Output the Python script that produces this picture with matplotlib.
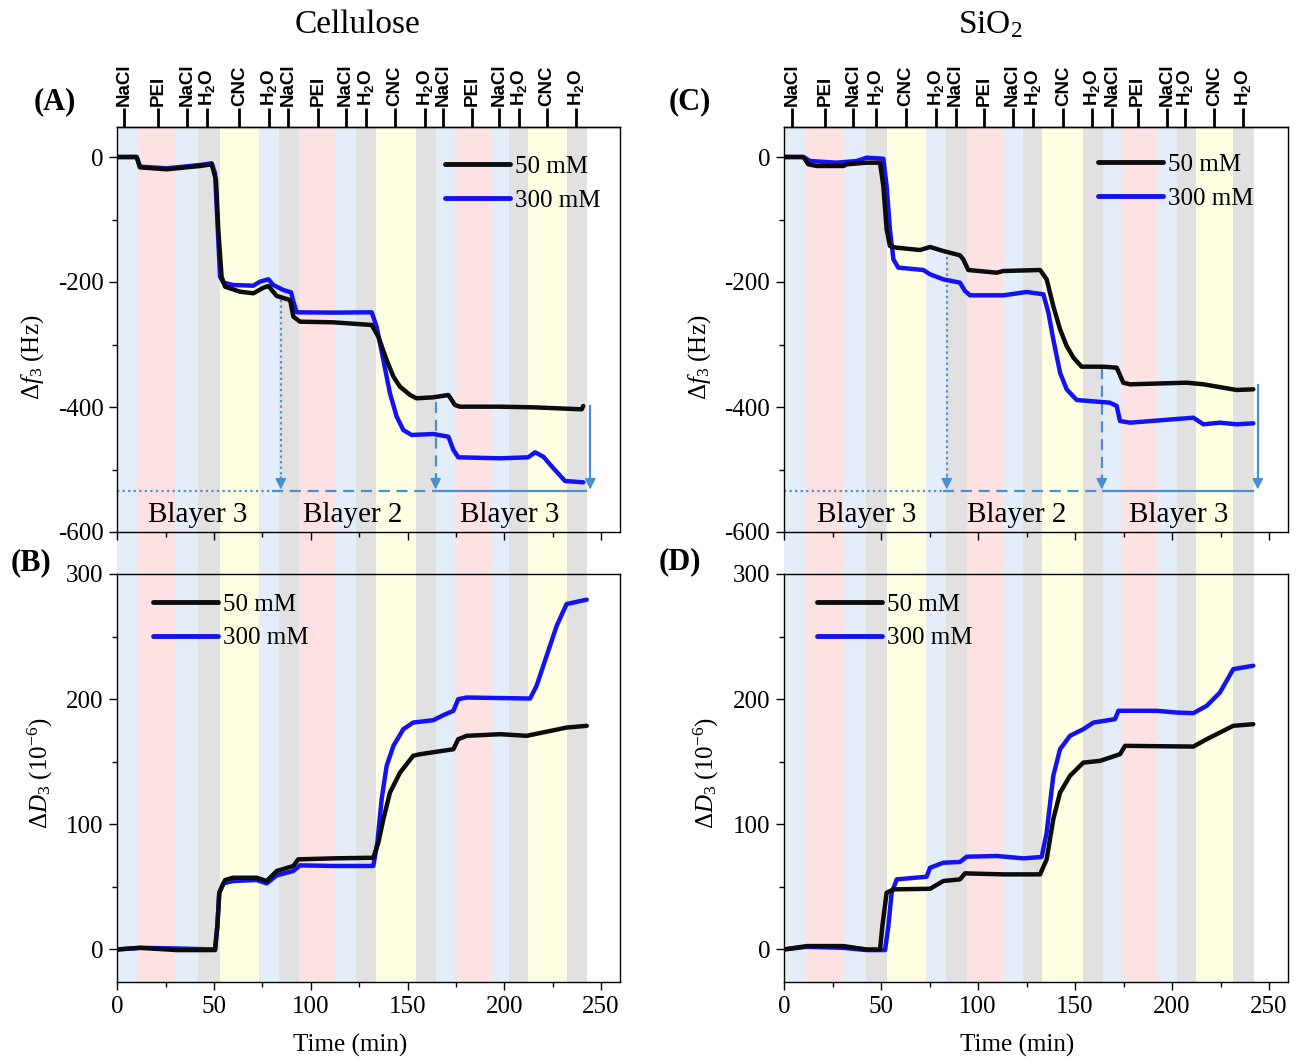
import matplotlib
matplotlib.use("Agg")
import matplotlib.pyplot as plt
from matplotlib.ticker import MultipleLocator

plt.rcParams['font.family'] = ['Liberation Serif', 'DejaVu Serif']
plt.rcParams['mathtext.fontset'] = 'custom'
plt.rcParams['mathtext.rm'] = 'Liberation Serif'
plt.rcParams['mathtext.it'] = 'Liberation Serif:italic'
plt.rcParams['mathtext.bf'] = 'Liberation Serif:bold'
plt.rcParams['mathtext.sf'] = 'Liberation Sans:bold'
plt.rcParams['axes.unicode_minus'] = False

# ---------------- data ----------------
step_labels = ['NaCl', 'PEI', 'NaCl', 'H2O', 'CNC', 'H2O', 'NaCl', 'PEI', 'NaCl',
               'H2O', 'CNC', 'H2O', 'NaCl', 'PEI', 'NaCl', 'H2O', 'CNC', 'H2O']
band_kinds = ['b', 'p', 'b', 'g', 'y', 'b', 'g', 'p', 'b', 'g', 'y', 'g',
              'b', 'p', 'b', 'g', 'y', 'g']
band_edges_cell = [0, 10.9, 30.3, 41.9, 53.1, 73.2, 83.7, 93.9, 113.0, 123.4, 133.7,
                   154.4, 164.5, 174.5, 193.0, 202.6, 212.4, 232.2, 242.6]
band_edges_sio2 = [0, 11.3, 30.6, 42.1, 53.3, 73.3, 83.5, 94.2, 112.7, 123.4, 133.2,
                   154.3, 164.3, 173.6, 192.5, 202.5, 212.4, 231.6, 242.3]
label_pos_cell = [3.5, 21.0, 36.2, 46.5, 63.1, 78.4, 88.4, 103.9, 118.0, 128.4, 143.5,
                  159.0, 168.5, 183.2, 197.4, 207.6, 221.9, 237.0]
label_pos_sio2 = [4.0, 21.1, 35.7, 47.4, 62.7, 78.2, 88.5, 103.2, 117.9, 128.5, 144.0,
                  158.9, 169.2, 182.3, 197.3, 206.7, 221.8, 236.4]

# Panel A: cellulose, frequency
A_t_50 = [0, 10, 11.7, 25.5, 42.7, 48.8, 51.0, 52.2, 53.9, 55.7, 63.4, 70.3, 75.5, 78.1,
          82.4, 89.3, 91.0, 94.4, 111.6, 131.5, 134.9, 139.2, 142.7, 146.1, 151.3, 154.7,
          163.3, 171.1, 174.5, 177.1, 197.8, 215.0, 240.0, 240.8]
A_f_50 = [0, 0, -16.5, -19.7, -14.4, -11.7, -36.8, -116.8, -191.5, -207.5, -215.5, -218.1,
          -209.1, -206.4, -222.4, -228.8, -255.5, -263.5, -264.5, -268.8, -287.5, -324.8,
          -351.5, -367.5, -380.8, -386.1, -384.5, -380.8, -396.8, -399.5, -399.5, -400.5,
          -403.7, -398.4]
A_t_300 = [0, 10.0, 11.7, 25.5, 42.7, 48.8, 50.5, 51.7, 53.1, 54.8, 59.8, 70.3, 73.7, 78.1,
           80.6, 85.8, 89.8, 91.0, 92.7, 111.6, 131.5, 134.0, 137.5, 140.9, 144.4, 147.8,
           152.1, 163.3, 171.1, 173.7, 176.2, 197.8, 212.4, 215.9, 220.2, 225.4, 231.4, 240.8]
A_f_300 = [0, 0, -15.5, -18.1, -12.8, -10.1, -26, -100.8, -191.5, -201, -204.8, -205.9,
           -199.5, -195.7, -204.8, -212.8, -216.5, -231.5, -248.5, -249, -248.5, -271.5,
           -324.8, -378, -415.5, -436.8, -444.8, -443.2, -447.5, -468.8, -480.5, -482.1,
           -480.5, -472.5, -479.5, -498.1, -518.4, -520.5]

# Panel B: cellulose, dissipation
B_t_50 = [0, 11.7, 30.7, 50.5, 51.7, 52.7, 55.7, 59.8, 72.0, 77.2, 82.4, 91.0, 93.5, 111.6,
          132.3, 134.9, 137.5, 140.9, 146.1, 152.9, 156.4, 173.7, 176.2, 180.6, 197.8,
          211.6, 232.2, 242.6]
B_d_50 = [0, 1.3, -0.5, -0.5, 18.7, 45.3, 55.5, 57.3, 57.3, 54.7, 62.7, 66.7, 72, 72.8,
          73.3, 85.3, 104, 125.3, 141.3, 154.7, 156, 160, 168, 170.7, 172, 170.7, 177.3, 178.7]
B_t_300 = [0, 11.7, 30.7, 50.5, 51.7, 52.7, 54.8, 59.8, 72.0, 77.2, 82.4, 91.0, 94.4, 111.6,
           132.3, 134.4, 136.6, 139.2, 142.7, 147.8, 152.9, 163.3, 168.5, 173.7, 176.2,
           180.6, 213.3, 216.7, 221.9, 227.1, 232.2, 242.6]
B_d_300 = [0, 1.3, 0.8, 0, 18.7, 45.3, 52.8, 54.7, 55.5, 52.8, 59.2, 62.7, 67.2, 66.7,
           66.7, 85.3, 120, 146.7, 162.7, 176, 181.3, 183.2, 187.2, 190.7, 200, 201.3,
           200.5, 210.7, 234.7, 258.7, 276, 279.5]

# Panel C: SiO2, frequency
C_t_50 = [0, 10.0, 12.5, 16.8, 30.6, 32.3, 42.6, 49.5, 51.2, 52.9, 54.6, 58.1, 70.1, 75.3,
          82.1, 90.7, 92.4, 95.0, 109.6, 113.1, 132.0, 135.4, 138.8, 142.3, 145.7, 149.2,
          153.4, 164.6, 171.5, 174.9, 178.4, 207.6, 216.2, 233.3, 241.9]
C_f_50 = [0, 0, -11.7, -14.4, -14.4, -11.7, -9.1, -9.1, -46.4, -115.7, -142.4, -145.1,
          -148.8, -144, -150.4, -157.3, -163.7, -180.8, -185.1, -182.4, -180.8, -195.7,
          -238.4, -275.7, -302.4, -321.1, -335.5, -335.5, -337.1, -361.1, -363.7, -361.1,
          -363.7, -372.8, -371.7]
C_t_300 = [0, 10.0, 13.4, 27.1, 37.5, 42.6, 51.2, 52.9, 54.6, 56.4, 58.9, 71.8, 75.3, 82.1,
           90.7, 93.3, 95.9, 113.1, 125.1, 133.7, 136.3, 138.8, 142.3, 145.7, 150.9, 168.0,
           171.5, 173.2, 178.4, 211.0, 216.2, 224.7, 233.3, 241.9]
C_f_300 = [0, 0, -6.4, -9.1, -6.4, -1.1, -2.7, -46.4, -115.7, -163.7, -177, -180.8, -187.7,
           -195.7, -201.1, -214.4, -221.3, -221.3, -216, -219.7, -249.1, -291.7, -345.1,
           -371.7, -388.8, -393.1, -398.4, -422.4, -425.1, -417.1, -427.7, -425.1, -427.7,
           -426.1]

# Panel D: SiO2, dissipation
D_t_50 = [0, 11.7, 30.6, 42.6, 49.5, 50.7, 52.9, 56.4, 75.3, 82.1, 90.7, 93.3, 113.1,
          132.0, 135.4, 138.8, 142.3, 147.4, 154.3, 162.9, 173.2, 175.8, 211.0, 217.9,
          231.6, 241.9]
D_d_50 = [0, 2.7, 2.7, 0, 0, 18.7, 45.3, 48, 48.5, 54.7, 56, 60.8, 60, 60, 72, 104,
          125.3, 138.7, 149.3, 150.7, 156, 162.7, 162.1, 168, 178.7, 180]
D_t_300 = [0, 11.7, 30.6, 42.6, 52.1, 53.8, 55.5, 58.1, 73.5, 75.3, 82.1, 90.7, 94.2,
           109.6, 123.4, 132.8, 135.4, 138.8, 142.3, 147.4, 154.3, 159.5, 170.6, 172.4,
           192.1, 202.4, 211.0, 217.9, 224.7, 231.6, 241.9]
D_d_300 = [0, 2.1, 1.3, -0.5, -0.5, 18.7, 45.3, 56, 58.1, 65.3, 69.3, 69.9, 74.1, 74.7,
           72.8, 73.9, 93.3, 138.7, 160, 170.7, 176, 181.3, 184, 190.7, 190.7, 189.3,
           188.8, 194.7, 205.3, 224, 226.7]

series_labels = ['50 mM', '300 mM']

# Bilayer markers (annotation): horizontal level, segment breaks, arrows
blayer_texts = ['Blayer 3', 'Blayer 2', 'Blayer 3']
blayer_level = -534
cell_segments = [0, 80, 164.5, 242]
cell_arrow_x = [84.5, 164.5, 244.4]
cell_arrow_top = [-229, -392, -398]
cell_text_x = [41.6, 121.4, 203]
sio2_segments = [0, 82, 164.3, 242]
sio2_arrow_x = [83.9, 163.8, 244.2]
sio2_arrow_top = [-160, -338, -365]
sio2_text_x = [42.6, 120, 203.6]

# ---------------- styling ----------------
W, H = 1298, 1059
fig = plt.figure(figsize=(W / 100, H / 100), dpi=100)

def fx(x):
    return x / W

def fy(y):
    return 1 - y / H

band_colors = {'b': '#e3eef8', 'p': '#fde1e3', 'g': '#e1e1e1', 'y': '#fefee2'}
c_black = '#0c0c0c'
c_blue = '#1212f2'
c_ann = '#4a8fd3'
lw_data = 3.2

def rect(left, top, right, bottom):
    return [fx(left), fy(bottom), fx(right) - fx(left), fy(top) - fy(bottom)]

cols = [
    dict(left=117.3, right=620.4, edges=band_edges_cell, lpos=label_pos_cell,
         top=(A_t_50, A_f_50, A_t_300, A_f_300), bot=(B_t_50, B_d_50, B_t_300, B_d_300),
         seg=cell_segments, ax_x=cell_arrow_x, ax_top=cell_arrow_top, tx=cell_text_x,
         title='Cellulose', title_x=357, tag_top='(A)', tag_top_xy=(55, 102),
         tag_bot='(B)', tag_bot_xy=(31, 563), yl_top_x=33, yl_bot_x=40, xl_x=350,
         leg_top=(0.651, 0.93), leg_bot=(0.071, 0.953)),
    dict(left=784, right=1288.4, edges=band_edges_sio2, lpos=label_pos_sio2,
         top=(C_t_50, C_f_50, C_t_300, C_f_300), bot=(D_t_50, D_d_50, D_t_300, D_d_300),
         seg=sio2_segments, ax_x=sio2_arrow_x, ax_top=sio2_arrow_top, tx=sio2_text_x,
         title='SiO$_\\mathrm{2}$', title_x=990, tag_top='(C)', tag_top_xy=(690, 102),
         tag_bot='(D)', tag_bot_xy=(680, 562), yl_top_x=700, yl_bot_x=706, xl_x=1017,
         leg_top=(0.6225, 0.935), leg_bot=(0.065, 0.953)),
]

top_y0, top_y1 = 127, 532
bot_y0, bot_y1 = 574, 982
XLIM = (0, 260)

def label_text(s):
    if s == 'H2O':
        return r'$\mathsf{H_2O}$'
    return s

def style_axis(ax):
    for sp in ax.spines.values():
        sp.set_linewidth(1.0)
    ax.tick_params(which='major', direction='out', length=6, width=1.0, labelsize=18,
                   top=False, right=False, pad=4)
    ax.tick_params(which='minor', direction='out', length=3.5, width=1.0,
                   top=False, right=False)
    ax.xaxis.set_major_locator(MultipleLocator(50))
    ax.xaxis.set_minor_locator(MultipleLocator(25))

for col in cols:
    # background band axes spanning both panels (bands cross the gap)
    bg = fig.add_axes(rect(col['left'], top_y0, col['right'], bot_y1))
    bg.set_xlim(*XLIM)
    bg.set_ylim(0, 1)
    bg.axis('off')
    bg.set_zorder(0)
    e = col['edges']
    for i, k in enumerate(band_kinds):
        bg.axvspan(e[i], e[i + 1], color=band_colors[k], lw=0)

    # ---- top panel (frequency) ----
    ax = fig.add_axes(rect(col['left'], top_y0, col['right'], top_y1))
    ax.set_zorder(1)
    ax.patch.set_alpha(0)
    t50, f50, t300, f300 = col['top']
    ax.plot(t50, f50, color=c_black, lw=lw_data, solid_joinstyle='round',
            solid_capstyle='round', label=series_labels[0], zorder=4)
    ax.plot(t300, f300, color=c_blue, lw=lw_data, solid_joinstyle='round',
            solid_capstyle='round', label=series_labels[1], zorder=3)
    ax.set_xlim(*XLIM)
    ax.set_ylim(-600, 48)
    style_axis(ax)
    ax.yaxis.set_major_locator(MultipleLocator(200))
    ax.yaxis.set_minor_locator(MultipleLocator(100))
    ax.tick_params(axis='x', labelbottom=False)
    leg = ax.legend(loc='upper left', bbox_to_anchor=col['leg_top'], frameon=False,
                    fontsize=18, handlelength=2.6, handletextpad=0.2, labelspacing=0.45,
                    borderpad=0, borderaxespad=0)
    for ln in leg.get_lines():
        ln.set_linewidth(3.5)

    # top labels axis
    sec = ax.secondary_xaxis('top')
    sec.set_xticks(col['lpos'])
    sec.set_xticklabels([label_text(s) for s in step_labels])
    sec.tick_params(axis='x', direction='out', length=14, width=2.0, pad=1,
                    labelrotation=90, labelsize=13.5)
    for lab in sec.get_xticklabels():
        lab.set_fontfamily('Liberation Sans')
        lab.set_fontweight('bold')
    sec.spines['top'].set_linewidth(1.0)

    # bilayer annotation
    s = col['seg']
    ax.plot([s[0], s[1]], [blayer_level] * 2, color=c_ann, lw=1.6, ls=(0, (1, 1.5)), zorder=2)
    ax.plot([s[1], s[2]], [blayer_level] * 2, color=c_ann, lw=1.6, ls=(0, (5, 3)), zorder=2)
    ax.plot([s[2], s[3]], [blayer_level] * 2, color=c_ann, lw=1.6, ls='-', zorder=2)
    styles = [(0, (1, 1.5)), (0, (5, 3)), '-']
    for xa, ya, stl in zip(col['ax_x'], col['ax_top'], styles):
        ax.plot([xa, xa], [ya, blayer_level + 12], color=c_ann, lw=1.6, ls=stl, zorder=2)
        ax.annotate('', xy=(xa, blayer_level + 2), xytext=(xa, blayer_level + 22),
                    arrowprops=dict(arrowstyle='-|>', color=c_ann, lw=1.2,
                                    mutation_scale=16, shrinkA=0, shrinkB=0), zorder=2)
    for xt, txt in zip(col['tx'], blayer_texts):
        ax.text(xt, -572, txt, fontsize=21, ha='center', va='center', zorder=5)

    # ---- bottom panel (dissipation) ----
    bx = fig.add_axes(rect(col['left'], bot_y0, col['right'], bot_y1))
    bx.set_zorder(1)
    bx.patch.set_alpha(0)
    t50, d50, t300, d300 = col['bot']
    bx.plot(t50, d50, color=c_black, lw=lw_data, solid_joinstyle='round',
            solid_capstyle='round', label=series_labels[0], zorder=4)
    bx.plot(t300, d300, color=c_blue, lw=lw_data, solid_joinstyle='round',
            solid_capstyle='round', label=series_labels[1], zorder=3)
    bx.set_xlim(*XLIM)
    bx.set_ylim(-26, 300)
    style_axis(bx)
    bx.yaxis.set_major_locator(MultipleLocator(100))
    bx.yaxis.set_minor_locator(MultipleLocator(50))
    leg = bx.legend(loc='upper left', bbox_to_anchor=col['leg_bot'], frameon=False,
                    fontsize=18, handlelength=2.6, handletextpad=0.2, labelspacing=0.45,
                    borderpad=0, borderaxespad=0)
    for ln in leg.get_lines():
        ln.set_linewidth(3.5)

    # texts
    fig.text(fx(col['title_x']), fy(25), col['title'], fontsize=24, ha='center', va='center')
    fig.text(fx(col['tag_top_xy'][0]), fy(col['tag_top_xy'][1]), col['tag_top'],
             fontsize=22, fontweight='bold', ha='center', va='center')
    fig.text(fx(col['tag_bot_xy'][0]), fy(col['tag_bot_xy'][1]), col['tag_bot'],
             fontsize=22, fontweight='bold', ha='center', va='center')
    fig.text(fx(col['yl_top_x']), fy(357), r'$\mathit{\Delta f}_{\mathit{3}}$ (Hz)',
             fontsize=18, rotation=90, ha='center', va='center')
    fig.text(fx(col['yl_bot_x']), fy(773), r'$\mathit{\Delta D}_{\mathit{3}}$ (10$^{\mathrm{-6}}$)',
             fontsize=18, rotation=90, ha='center', va='center')
    fig.text(fx(col['xl_x']), fy(1045), 'Time (min)', fontsize=18, ha='center', va='center')

fig.savefig('out.png', dpi=100)
